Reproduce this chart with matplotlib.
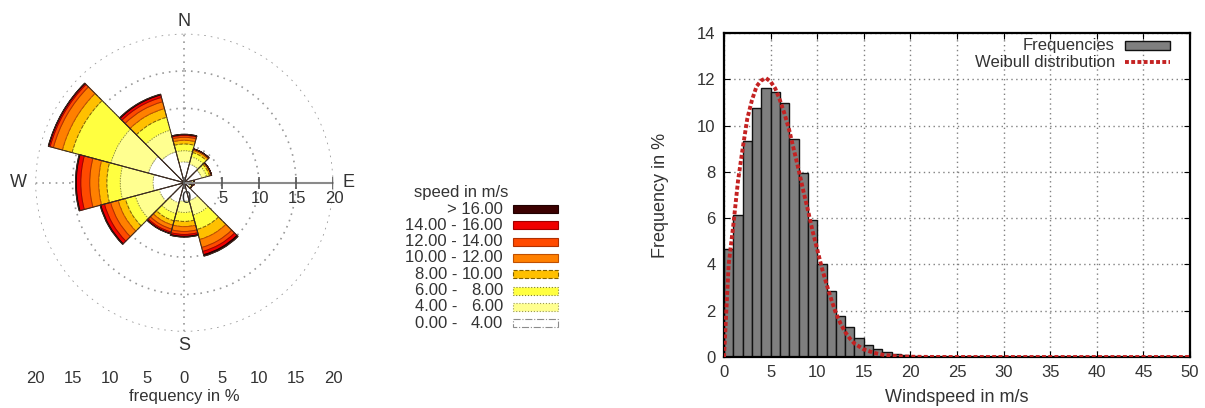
import matplotlib
matplotlib.use("Agg")
import matplotlib.pyplot as plt
import matplotlib.patches as patches
from matplotlib.lines import Line2D
import numpy as np

plt.rcParams['font.family'] = ['Liberation Sans', 'DejaVu Sans']
plt.rcParams['font.size'] = 12

# wind rose: 12 sectors of 30 degrees, compass bearing of sector centre
directions = [0, 30, 60, 90, 120, 150, 180, 210, 240, 270, 300, 330]

# frequency in % per speed class and sector
speed_0_4 = [2.8, 2.6, 2.4, 1.0, 0.8, 2.5, 2.5, 2.8, 3.5, 4.2, 5.0, 4.3]
speed_4_6 = [1.5, 1.0, 0.7, 0.2, 0.2, 2.0, 1.5, 1.5, 3.3, 4.4, 5.2, 3.0]
speed_6_8 = [0.9, 0.6, 0.4, 0.1, 0.1, 2.0, 1.2, 1.0, 1.4, 1.8, 5.4, 1.8]
speed_8_10 = [0.5, 0.3, 0.2, 0.0, 0.0, 1.4, 0.7, 0.6, 1.0, 1.1, 1.35, 1.2]
speed_10_12 = [0.4, 0.15, 0.1, 0.0, 0.0, 1.1, 0.65, 0.55, 1.05, 1.2, 1.25, 0.95]
speed_12_14 = [0.25, 0.05, 0.0, 0.0, 0.0, 0.55, 0.4, 0.4, 0.85, 1.2, 0.45, 0.6]
speed_14_16 = [0.1, 0.0, 0.0, 0.0, 0.0, 0.45, 0.25, 0.2, 0.5, 0.6, 0.2, 0.35]
speed_16_up = [0.05, 0.0, 0.0, 0.0, 0.0, 0.2, 0.1, 0.05, 0.1, 0.1, 0.05, 0.1]

class_lo = [0, 4, 6, 8, 10, 12, 14, 16]
class_hi = [4, 6, 8, 10, 12, 14, 16, None]

# histogram of wind speed, 1 m/s bins from 0 to 50
freq = [4.65, 6.12, 9.33, 10.75, 11.62, 11.47, 10.96, 9.43, 7.95, 5.93,
        4.0, 2.85, 1.78, 1.28, 0.8, 0.53, 0.35, 0.2, 0.13, 0.07,
        0.04, 0.02, 0.01, 0.01] + [0.0] * 26

# fitted weibull curve
wb_x = [0, 0.5, 1.0, 1.5, 2.0, 2.5, 3.0, 3.5, 4.0, 4.5, 5.0, 5.5, 6.0, 6.5,
        7.0, 7.5, 8.0, 8.5, 9.0, 9.5, 10.0, 10.5, 11.0, 11.5, 12.0, 12.5,
        13.0, 13.5, 14.0, 15.0, 16.0, 17.0, 18.0, 19.0, 20.0, 22.0, 25.0,
        30.0, 40.0, 50.0]
wb_y = [0, 4.0, 5.7, 7.6, 9.0, 10.3, 11.1, 11.7, 11.95, 12.05, 11.9, 11.6,
        11.1, 10.5, 9.8, 8.95, 8.1, 7.2, 6.35, 5.45, 4.65, 3.85, 3.15, 2.5,
        1.9, 1.45, 1.08, 0.8, 0.58, 0.33, 0.19, 0.1, 0.05, 0.025, 0.012,
        0.003, 0, 0, 0, 0]

bands = [speed_0_4, speed_4_6, speed_6_8, speed_8_10,
         speed_10_12, speed_12_14, speed_14_16, speed_16_up]
fills = ['#ffffff', '#ffff90', '#ffff40', '#ffc000',
         '#ff8000', '#ff4a00', '#f00000', '#3c0000']
edges = ['#8c8c8c', '#9a9a50', '#808030', '#806000',
         '#c05000', '#b03000', '#a00000', '#200000']
styles = ['-.', ':', ':', '--', '-', '-', '-', '-']
txt = '#333333'

W, H = 1205, 408
fig = plt.figure(figsize=(W / 100, H / 100), dpi=100)

# ---- wind rose ----
cx, cy, R = 184.3, 182.7, 149.0   # pixels, radius of the 20 % circle
ax = fig.add_axes([(cx - R) / W, (H - cy - R) / H, 2 * R / W, 2 * R / H],
                  projection='polar')
ax.set_theta_zero_location('N')
ax.set_theta_direction(-1)
ax.set_ylim(0, 20)
ax.spines['polar'].set_visible(False)
ax.set_rticks([5, 10, 15, 20])
ax.set_yticklabels([])
ax.set_xticks([])
ax.xaxis.grid(False)
ax.yaxis.grid(True, color='#999999', linestyle=(0, (1, 3)), linewidth=1.2)
ax.set_axisbelow(True)

# dotted spokes to N, S and W
for a in [0, 180, 270]:
    ax.plot([np.deg2rad(a)] * 2, [0, 20], color='#999999',
            linestyle=(0, (1, 3)), linewidth=1.2, zorder=1)

theta = np.deg2rad(directions)
width = np.deg2rad(30)
bottom = np.zeros(len(directions))
for vals, fc, ec, ls in zip(bands, fills, edges, styles):
    vals = np.array(vals)
    ax.bar(theta, vals, width=width, bottom=bottom, color=fc,
           edgecolor=ec, linestyle=ls, linewidth=0.7, zorder=2)
    bottom = bottom + vals
ax.bar(theta, bottom, width=width, facecolor='none', edgecolor='#3a2a20',
       linewidth=0.7, zorder=3)

# radial scale along east
ax.plot([np.pi / 2] * 2, [0, 20], color='#8a8a8a', linewidth=1.5, zorder=4)
for r in [0, 5, 10, 15, 20]:
    ax.plot(np.pi / 2, r, marker='|', markersize=9, color='#555555',
            markeredgewidth=1.2, zorder=4)
    ax.annotate(str(r), (np.pi / 2, r), xytext=(1, -6),
                textcoords='offset points', ha='center', va='top',
                fontsize=12, color=txt, zorder=5)

for lab, a, r in [('N', 0, 21.6), ('E', 90, 22.0), ('S', 180, 21.8), ('W', 270, 22.3)]:
    ax.text(np.deg2rad(a), r, lab, ha='center', va='center', fontsize=13,
            color=txt, clip_on=False)

# frequency scale below the rose
sx = fig.add_axes([(cx - R) / W, (H - 368) / H, 2 * R / W, 0.001])
sx.set_xlim(-20, 20)
sx.set_xticks([-20, -15, -10, -5, 0, 5, 10, 15, 20])
sx.set_xticklabels([str(abs(v)) for v in [-20, -15, -10, -5, 0, 5, 10, 15, 20]],
                   color=txt)
sx.set_yticks([])
sx.tick_params(axis='x', length=0, pad=2, labelsize=12)
for s in sx.spines.values():
    s.set_visible(False)
sx.patch.set_alpha(0)
sx.set_xlabel('frequency in %', fontsize=12, color=txt, labelpad=2)

# legend of speed classes
lax = fig.add_axes([0, 0, 1, 1])
lax.set_xlim(0, W)
lax.set_ylim(H, 0)
lax.axis('off')
lax.text(461, 193, 'speed in m/s', ha='center', va='center', fontsize=12,
         color=txt)
row_y = 209
for i in reversed(range(len(class_lo))):
    if class_hi[i] is None:
        lax.text(503, row_y, '> %.2f' % class_lo[i], ha='right', va='center',
                 fontsize=12, color=txt)
    else:
        lax.text(457, row_y, '%.2f -' % class_lo[i], ha='right', va='center',
                 fontsize=12, color=txt)
        lax.text(503, row_y, '%.2f' % class_hi[i], ha='right', va='center',
                 fontsize=12, color=txt)
    lax.add_patch(patches.Rectangle((513, row_y - 4), 45, 8, facecolor=fills[i],
                                    edgecolor=edges[i], linestyle=styles[i],
                                    linewidth=0.8))
    row_y += 16.3

# ---- speed histogram ----
hx = fig.add_axes([724 / W, (H - 357) / H, 466 / W, 324 / H])
bins = np.arange(len(freq))
hx.bar(bins, freq, width=1.0, align='edge', color='#7f7f7f',
       edgecolor='#111111', linewidth=1.0, zorder=2)
hx.plot(wb_x, wb_y, color='#c42222', linestyle=(0, (1, 0.6)), linewidth=2.8,
        zorder=3)
hx.set_xlim(0, 50)
hx.set_ylim(0, 14)
hx.set_xticks(range(0, 51, 5))
hx.set_yticks(range(0, 15, 2))
hx.grid(True, color='#808080', linestyle=(0, (1, 2.5)), linewidth=1.0, zorder=0)
hx.set_axisbelow(True)
hx.tick_params(direction='in', length=4, top=True, right=True, labelsize=12,
               labelcolor=txt, pad=6)
for s in hx.spines.values():
    s.set_linewidth(1.6)
hx.set_xlabel('Windspeed in m/s', fontsize=13, color=txt, labelpad=6)
hx.set_ylabel('Frequency in %', fontsize=13, color=txt, labelpad=20)

hx.text(0.839, 0.961, 'Frequencies', transform=hx.transAxes, ha='right',
        va='center', fontsize=12, color=txt)
hx.text(0.839, 0.910, 'Weibull distribution', transform=hx.transAxes,
        ha='right', va='center', fontsize=12, color=txt)
hx.add_patch(patches.Rectangle((0.861, 0.947), 0.096, 0.027,
                               transform=hx.transAxes, facecolor='#7f7f7f',
                               edgecolor='#111111', linewidth=1.0, zorder=5))
hx.add_line(Line2D([0.861, 0.957], [0.910, 0.910], transform=hx.transAxes,
                   color='#c42222', linestyle=(0, (1, 0.6)), linewidth=2.8,
                   zorder=5))

fig.savefig('out.png', dpi=100)
